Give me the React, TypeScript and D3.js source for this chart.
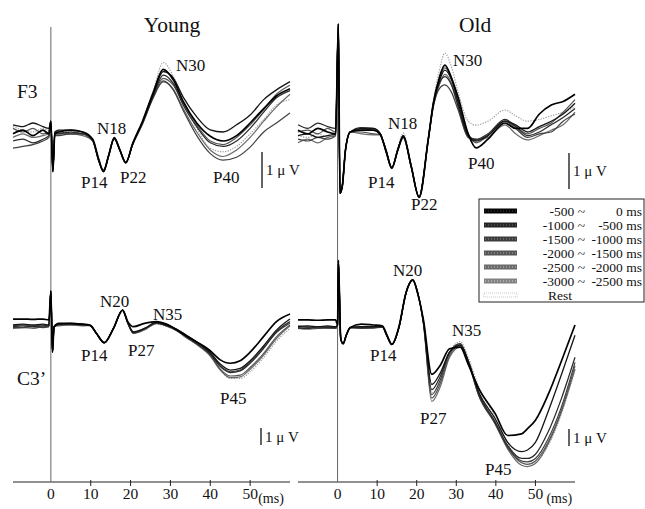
import React from "react";
import * as d3 from "d3";

// time points (ms) for each panel
const youngF3Times = [-9.5, -7, -4.5, -2, -0.5, 0, 0.5, 1, 2, 5, 8, 10.5, 12, 13.2, 14.5, 15.9, 17.3, 18.8, 20.5, 23, 25.7, 28.2, 30.7, 33.2, 36.6, 40, 43.2, 46.6, 50, 53.4, 56.6, 60];
const oldF3Times = [-10, -7.5, -5, -2.5, -0.5, 0.2, 0.6, 1.2, 2, 3.2, 6, 9, 10.7, 12.3, 13.7, 15.2, 16.6, 18.6, 20.6, 22.9, 24.2, 25.7, 27.1, 28.8, 30.5, 33, 35, 38, 42.3, 45, 48, 51, 54, 57, 60];
const youngC3Times = [-9.5, -7, -4.5, -2, -0.5, 0, 0.4, 0.8, 2, 5, 8, 9.8, 11.5, 13.4, 15.7, 18, 19.3, 20.7, 23.5, 26.5, 29, 31.6, 34, 36.6, 39.9, 42.5, 45, 47.5, 50, 53.3, 56.6, 60];
const oldC3Times = [-10, -7.5, -5, -2.5, -0.5, 0, 0.2, 0.8, 1.4, 2.2, 3.2, 6, 9, 11.3, 12.5, 13.7, 15.5, 17.3, 19, 20.3, 21.7, 23.8, 26, 28.3, 31, 33, 35.6, 39.8, 43, 46.5, 48, 50, 53.2, 56.6, 60];

// amplitudes in µV (negative is up), one row per condition: -500~0 ... -3000~-2500, Rest
const youngF3 = [
  [0.05, -0.05, 0.1, -0.05, 0.05, -0.3, 1.1, 0.05, 0, -0.05, 0, 0.2, 0.75, 1.1, 0.65, 0.17, 0.5, 0.85, 0.33, -0.3, -1.1, -1.74, -1.45, -0.85, -0.25, 0.12, 0.25, 0.1, -0.25, -0.65, -1.0, -1.2],
  [-0.2, -0.15, -0.25, -0.15, -0.1, -0.3, 1.1, 0, -0.05, -0.05, 0, 0.22, 0.78, 1.1, 0.64, 0.15, 0.48, 0.86, 0.34, -0.28, -1.05, -1.68, -1.5, -0.97, -0.42, -0.06, 0, -0.2, -0.47, -0.9, -1.17, -1.4],
  [0.25, 0.2, 0.3, 0.2, 0.1, -0.25, 1.05, 0.05, 0.05, 0, 0.05, 0.24, 0.8, 1.08, 0.66, 0.18, 0.5, 0.85, 0.35, -0.26, -1.0, -1.58, -1.35, -0.75, -0.15, 0.3, 0.4, 0.25, -0.1, -0.55, -0.95, -1.15],
  [0.45, 0.4, 0.35, 0.25, 0.15, -0.2, 1.0, 0.1, 0.1, 0.05, 0.05, 0.25, 0.8, 1.05, 0.66, 0.2, 0.5, 0.84, 0.36, -0.22, -0.95, -1.42, -1.17, -0.6, 0.1, 0.6, 0.78, 0.7, 0.42, 0, -0.25, -0.53],
  [-0.1, 0, -0.1, 0.05, 0, -0.3, 1.1, 0, 0, 0.05, 0.05, 0.22, 0.78, 1.1, 0.65, 0.17, 0.5, 0.86, 0.34, -0.25, -1.0, -1.49, -1.3, -0.8, -0.2, 0.25, 0.35, 0.15, -0.2, -0.62, -1.05, -1.3],
  [0.15, 0.05, 0.15, 0.1, 0.05, -0.25, 1.05, 0.05, 0.05, 0.05, 0.1, 0.24, 0.8, 1.08, 0.66, 0.18, 0.5, 0.85, 0.35, -0.24, -0.98, -1.39, -1.2, -0.65, 0, 0.5, 0.68, 0.5, 0.15, -0.3, -0.7, -1.05],
  [-0.15, -0.05, 0, -0.1, -0.05, -0.3, 1.1, 0, -0.05, 0, 0, 0.22, 0.78, 1.1, 0.65, 0.15, 0.5, 0.86, 0.33, -0.32, -1.15, -1.93, -1.55, -0.85, -0.1, 0.45, 0.55, 0.4, 0.05, -0.35, -0.75, -0.9],
];

const oldF3 = [
  [-0.05, 0.05, -0.1, 0, 0.05, -3.0, 1.7, 1.5, 0.5, 0, -0.05, -0.05, 0.05, 0.55, 1.0, 0.5, 0.12, 0.95, 1.82, 0.22, -0.8, -1.5, -1.86, -1.5, -0.95, 0.05, 0.44, 0.2, -0.25, -0.1, -0.1, -0.5, -0.75, -0.85, -1.05],
  [0.1, 0.05, 0.15, 0.1, 0.05, -3.0, 1.7, 1.5, 0.5, 0, -0.1, -0.1, 0.03, 0.52, 1.0, 0.5, 0.1, 0.95, 1.8, 0.2, -0.78, -1.4, -1.72, -1.45, -0.8, 0.1, 0.25, 0.1, -0.3, -0.2, 0, -0.15, -0.3, -0.5, -0.8],
  [-0.2, -0.1, -0.25, -0.15, -0.1, -3.0, 1.7, 1.5, 0.5, 0, -0.12, -0.1, 0.03, 0.52, 0.98, 0.5, 0.1, 0.95, 1.8, 0.22, -0.75, -1.35, -1.54, -1.3, -0.7, 0.1, 0.2, 0.05, -0.35, -0.15, 0.1, 0, -0.2, -0.4, -0.65],
  [0.2, 0.25, 0.15, 0.2, 0.1, -3.0, 1.7, 1.5, 0.5, 0, 0, 0.05, 0.07, 0.58, 1.02, 0.52, 0.15, 0.97, 1.82, 0.25, -0.7, -1.2, -1.31, -1.1, -0.6, 0.15, 0.22, 0.1, -0.3, -0.1, 0.15, 0.05, 0, -0.3, -0.5],
  [0, -0.05, 0.05, -0.1, 0, -3.0, 1.7, 1.5, 0.5, 0, -0.08, -0.06, 0.05, 0.55, 1.0, 0.5, 0.12, 0.95, 1.8, 0.22, -0.8, -1.45, -1.78, -1.5, -0.85, 0.05, 0.3, 0.1, -0.3, -0.15, 0.05, -0.1, -0.25, -0.55, -0.9],
  [0.3, 0.2, 0.3, 0.15, 0.1, -3.0, 1.7, 1.5, 0.5, 0, 0.05, 0.08, 0.08, 0.58, 1.0, 0.52, 0.17, 0.97, 1.8, 0.25, -0.72, -1.3, -1.6, -1.35, -0.7, 0.15, 0.22, 0.15, -0.2, 0.05, 0.22, 0.1, -0.05, -0.2, -0.55],
  [0.1, 0.15, 0.05, 0.15, 0.05, -3.0, 1.7, 1.5, 0.5, 0, -0.05, -0.05, 0.05, 0.55, 1.0, 0.45, 0.03, 0.9, 1.8, 0.2, -0.85, -1.7, -2.19, -1.8, -1.1, -0.3, -0.19, -0.3, -0.61, -0.45, -0.3, -0.35, -0.45, -0.55, -0.7],
];

const youngC3 = [
  [-0.35, -0.35, -0.33, -0.35, -0.3, -2.0, 1.6, 0.1, -0.1, -0.1, -0.05, 0, 0.5, 1.04, 0.2, -0.88, -0.2, 0.1, -0.1, -0.2, -0.05, 0.3, 0.65, 1.0, 1.5, 2.05, 2.25, 2.1, 1.6, 0.7, -0.2, -0.65],
  [0, -0.05, 0, -0.05, 0, -2.0, 1.6, 0.1, -0.05, -0.1, -0.05, 0.02, 0.52, 1.04, 0.2, -0.88, -0.15, 0.4, 0.2, -0.15, 0, 0.25, 0.6, 1.0, 1.6, 2.3, 2.65, 2.55, 2.1, 1.25, 0.3, -0.35],
  [0.1, 0.05, 0.1, 0.05, 0.05, -2.0, 1.6, 0.1, -0.05, -0.05, 0, 0.02, 0.52, 1.04, 0.2, -0.88, -0.12, 0.45, 0.22, -0.12, 0.05, 0.3, 0.7, 1.1, 1.7, 2.45, 2.8, 2.7, 2.25, 1.4, 0.4, -0.2],
  [0.15, 0.15, 0.1, 0.15, 0.1, -2.0, 1.6, 0.1, 0, -0.05, 0, 0.04, 0.54, 1.05, 0.22, -0.86, -0.1, 0.48, 0.25, -0.1, 0, 0.25, 0.6, 1.0, 1.65, 2.4, 2.75, 2.65, 2.15, 1.35, 0.45, -0.1],
  [0.05, 0, 0.05, 0, 0.05, -2.0, 1.6, 0.1, 0, 0, 0, 0.02, 0.52, 1.04, 0.2, -0.88, -0.12, 0.42, 0.2, -0.15, 0, 0.3, 0.7, 1.1, 1.75, 2.6, 3.0, 2.95, 2.5, 1.7, 0.7, 0],
  [0.2, 0.15, 0.2, 0.1, 0.1, -2.0, 1.6, 0.1, 0.05, 0, 0.05, 0.04, 0.54, 1.05, 0.22, -0.86, -0.1, 0.49, 0.28, -0.1, 0.05, 0.35, 0.75, 1.15, 1.8, 2.65, 3.1, 3.05, 2.6, 1.8, 0.8, 0.05],
  [0.1, 0.1, 0.05, 0.1, 0.05, -2.0, 1.6, 0.1, 0, 0, 0.05, 0.02, 0.52, 1.04, 0.2, -0.88, -0.1, 0.45, 0.3, -0.05, 0.1, 0.35, 0.75, 1.15, 1.75, 2.6, 3.15, 3.15, 2.75, 1.95, 0.95, 0.2],
];

const oldC3 = [
  [-0.3, -0.3, -0.28, -0.3, -0.3, 0, -3.8, 0.8, 1.1, 0.6, 0.15, -0.05, 0, 0.05, 0.6, 1.14, 0.1, -1.9, -2.65, -1.8, -0.3, 2.9, 2.35, 1.4, 1.3, 2.3, 3.7, 5.2, 6.5, 6.4, 6.1, 5.6, 4.1, 2.1, 0],
  [0.1, 0.05, 0.1, 0.05, 0.1, 0, -3.8, 0.8, 1.1, 0.6, 0.15, 0.1, 0.1, 0.1, 0.65, 1.14, 0.15, -1.9, -2.65, -1.85, -0.2, 3.5, 2.8, 1.6, 1.2, 2.1, 3.9, 5.5, 6.9, 7.45, 7.35, 6.9, 5.1, 2.9, 0.6],
  [0.15, 0.2, 0.1, 0.15, 0.15, 0, -3.8, 0.8, 1.1, 0.6, 0.15, 0.15, 0.12, 0.1, 0.65, 1.14, 0.15, -1.9, -2.65, -1.85, -0.15, 3.8, 3.0, 1.6, 1.1, 2.1, 4.0, 5.7, 7.1, 7.85, 7.85, 7.6, 6.3, 4.3, 1.9],
  [0.2, 0.15, 0.2, 0.15, 0.2, 0, -3.8, 0.8, 1.1, 0.6, 0.15, 0.2, 0.15, 0.12, 0.67, 1.16, 0.17, -1.88, -2.63, -1.83, -0.1, 4.1, 3.2, 1.65, 1.15, 2.15, 4.1, 5.8, 7.2, 8.0, 8.05, 7.85, 6.7, 4.8, 2.2],
  [0.05, 0.1, 0.15, 0.1, 0.1, 0, -3.8, 0.8, 1.1, 0.6, 0.15, 0.1, 0.1, 0.1, 0.65, 1.14, 0.15, -1.9, -2.65, -1.85, -0.12, 4.3, 3.4, 1.8, 1.2, 2.1, 4.0, 5.7, 7.2, 8.1, 8.2, 8.0, 6.9, 5.0, 2.4],
  [0.2, 0.25, 0.2, 0.2, 0.2, 0, -3.8, 0.8, 1.1, 0.6, 0.15, 0.2, 0.2, 0.12, 0.67, 1.16, 0.17, -1.88, -2.63, -1.83, -0.08, 4.5, 3.6, 1.9, 1.3, 2.2, 4.1, 5.8, 7.3, 8.25, 8.33, 8.15, 7.0, 5.1, 2.6],
  [0.15, 0.1, 0.15, 0.2, 0.15, 0, -3.8, 0.8, 1.1, 0.6, 0.15, 0.15, 0.15, 0.1, 0.65, 1.14, 0.15, -1.9, -2.65, -1.85, -0.05, 4.0, 3.3, 1.6, 0.98, 1.9, 3.6, 5.4, 7.0, 8.0, 8.2, 8.1, 7.1, 5.2, 2.65],
];

const legendFrom = ["-500 ~", "-1000 ~", "-1500 ~", "-2000 ~", "-2500 ~", "-3000 ~", "Rest"];
const legendTo = ["0 ms", "-500 ms", "-1000 ms", "-1500 ms", "-2000 ms", "-2500 ms", ""];
const tickValues = [0, 10, 20, 30, 40, 50];

const font = "'Liberation Serif', 'Times New Roman', serif";

// line look per condition (same order as the data rows)
const traceStyle = [
  { color: "#000", width: 1.7, dash: "" },
  { color: "#151515", width: 1.3, dash: "" },
  { color: "#2a2a2a", width: 1.25, dash: "" },
  { color: "#404040", width: 1.2, dash: "" },
  { color: "#555", width: 1.2, dash: "" },
  { color: "#6a6a6a", width: 1.2, dash: "" },
  { color: "#999", width: 1.1, dash: "1.3 1.3" },
];
const swatchFill = ["#050505", "#262626", "#3d3d3d", "#555", "#6b6b6b", "#828282"];

const xYoung = d3.scaleLinear().domain([-9.5, 60]).range([13, 290]);
const xOld = d3.scaleLinear().domain([-10, 60]).range([298, 575]);
const yF3 = d3.scaleLinear().domain([0, 1]).range([132, 168]);
const yC3 = d3.scaleLinear().domain([0, 1]).range([325, 342]);
const axisY = 482;

function Traces({ times, rows, x, y }) {
  const line = d3
    .line<number>()
    .x((_, i) => x(times[i]))
    .y((d) => y(d))
    .curve(d3.curveMonotoneX);
  const order = [6, 5, 4, 3, 2, 1, 0]; // black drawn last
  return (
    <g fill="none" strokeLinejoin="round">
      {order.map((k) => (
        <path
          key={k}
          d={line(rows[k]) || ""}
          stroke={traceStyle[k].color}
          strokeWidth={traceStyle[k].width}
          strokeDasharray={traceStyle[k].dash || undefined}
        />
      ))}
    </g>
  );
}

function TimeAxis({ x, msGap }) {
  const [x0, x1] = x.range();
  return (
    <g>
      <line x1={x0} x2={x1} y1={axisY} y2={axisY} stroke="#222" strokeWidth={1} />
      <line x1={x(0)} x2={x(0)} y1={27} y2={axisY} stroke="#666" strokeWidth={1} />
      {tickValues.map((t) => (
        <g key={t}>
          {t > 0 && <line x1={x(t)} x2={x(t)} y1={axisY - 2} y2={axisY + 4} stroke="#222" />}
          <text x={x(t)} y={499} fontSize={15.5} textAnchor="middle">
            {t}
          </text>
        </g>
      ))}
      <text x={x(50) + msGap} y={503} fontSize={14}>
        (ms)
      </text>
    </g>
  );
}

function ScaleBar({ x, top, y, label }) {
  const len = y(1) - y(0);
  return (
    <g>
      <line x1={x} x2={x} y1={top} y2={top + len} stroke="#111" strokeWidth={1.3} />
      <text x={x + 4} y={top + len / 2 + 5} fontSize={15}>
        {label}
      </text>
    </g>
  );
}

const peakLabels = [
  { text: "N30", x: 176, y: 71 },
  { text: "N18", x: 97, y: 134 },
  { text: "P14", x: 81, y: 188 },
  { text: "P22", x: 120, y: 183 },
  { text: "P40", x: 213, y: 183 },
  { text: "N30", x: 453, y: 66 },
  { text: "N18", x: 388, y: 129 },
  { text: "P14", x: 368, y: 188 },
  { text: "P22", x: 411, y: 210 },
  { text: "P40", x: 468, y: 169 },
  { text: "N20", x: 100, y: 307 },
  { text: "N35", x: 153, y: 320 },
  { text: "P14", x: 81, y: 361 },
  { text: "P27", x: 128, y: 356 },
  { text: "P45", x: 220, y: 404 },
  { text: "N20", x: 393, y: 276 },
  { text: "N35", x: 452, y: 336 },
  { text: "P14", x: 370, y: 361 },
  { text: "P27", x: 420, y: 424 },
  { text: "P45", x: 485, y: 475 },
];

function Legend() {
  const left = 479;
  const top = 199;
  const rowY = (i) => 211 + i * 14;
  return (
    <g>
      <rect x={left} y={top} width={165} height={103} fill="#fff" stroke="#222" strokeWidth={1} />
      {legendFrom.map((lab, i) => (
        <g key={lab}>
          {i < 6 ? (
            <g>
              <rect x={484} y={rowY(i) - 2.5} width={33} height={5} fill={swatchFill[i]} />
              <line
                x1={485}
                x2={516}
                y1={rowY(i)}
                y2={rowY(i)}
                stroke="#fff"
                strokeOpacity={0.25 + i * 0.08}
                strokeWidth={1}
                strokeDasharray="1 2"
              />
            </g>
          ) : (
            <rect x={484} y={rowY(i) - 2} width={33} height={4} fill="none" stroke="#bbb" strokeWidth={0.8} strokeDasharray="1 1" />
          )}
          {i < 6 ? (
            <text x={585} y={rowY(i) + 4.5} fontSize={13.5} textAnchor="end">
              {lab}
            </text>
          ) : (
            <text x={548} y={rowY(i) + 4.5} fontSize={13.5}>
              {lab}
            </text>
          )}
          {legendTo[i] && (
            <text x={642} y={rowY(i) + 4.5} fontSize={13.5} textAnchor="end">
              {legendTo[i]}
            </text>
          )}
        </g>
      ))}
    </g>
  );
}

export default function App() {
  return (
    <svg
      width={645}
      height={509}
      style={{ position: "absolute", left: 0, top: 0, background: "#fff" }}
      fontFamily={font}
      fill="#111"
    >
      <rect width={645} height={509} fill="#fff" />
      <text x={172} y={32} fontSize={21.5} textAnchor="middle">
        Young
      </text>
      <text x={475} y={32} fontSize={21.5} textAnchor="middle">
        Old
      </text>
      <text x={17} y={98} fontSize={19.5}>
        F3
      </text>
      <text x={17} y={385} fontSize={19.5}>
        C3’
      </text>

      <TimeAxis x={xYoung} msGap={8} />
      <TimeAxis x={xOld} msGap={11} />

      <Traces times={youngF3Times} rows={youngF3} x={xYoung} y={yF3} />
      <Traces times={oldF3Times} rows={oldF3} x={xOld} y={yF3} />
      <Traces times={youngC3Times} rows={youngC3} x={xYoung} y={yC3} />
      <Traces times={oldC3Times} rows={oldC3} x={xOld} y={yC3} />

      {peakLabels.map((p, i) => (
        <text key={i} x={p.x} y={p.y} fontSize={17}>
          {p.text}
        </text>
      ))}

      <ScaleBar x={262} top={152} y={yF3} label="1 μ V" />
      <ScaleBar x={569} top={153} y={yF3} label="1 μ V" />
      <ScaleBar x={261} top={428} y={yC3} label="1 μ V" />
      <ScaleBar x={569} top={429} y={yC3} label="1 μ V" />

      <Legend />
    </svg>
  );
}
